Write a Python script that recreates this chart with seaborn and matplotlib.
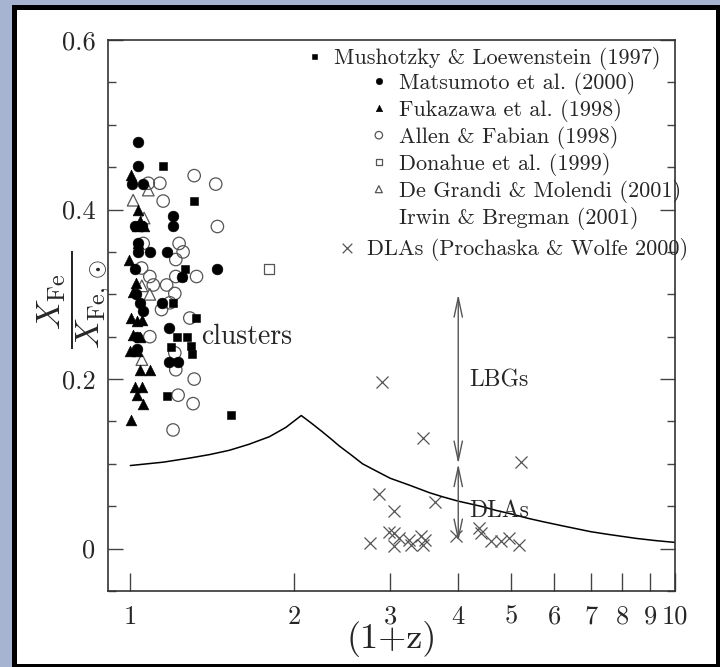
import matplotlib
matplotlib.use('Agg')
import matplotlib.pyplot as plt
from matplotlib.patches import Rectangle
from matplotlib.lines import Line2D
from matplotlib.ticker import FixedLocator, MultipleLocator, NullLocator
import seaborn as sns

sns.set_style('ticks')
plt.rcParams['font.family'] = ['cmr10', 'DejaVu Serif']
plt.rcParams['mathtext.fontset'] = 'cm'
plt.rcParams['axes.unicode_minus'] = False
plt.rcParams['axes.formatter.use_mathtext'] = True

# ---- data ----
mush_x = [1.15, 1.31, 1.26, 1.245, 1.20, 1.32, 1.22, 1.27, 1.29, 1.30, 1.19, 1.17, 1.53]
mush_y = [0.451, 0.41, 0.33, 0.32, 0.29, 0.272, 0.25, 0.25, 0.239, 0.229, 0.238, 0.18, 0.158]

mats_x = [1.034, 1.032, 1.007, 1.056, 1.198, 1.198, 1.02, 1.05, 1.034, 1.034, 1.086, 1.166,
          1.445, 1.02, 1.245, 1.025, 1.04, 1.055, 1.141, 1.179, 1.03, 1.03, 1.176, 1.224]
mats_y = [0.48, 0.451, 0.43, 0.43, 0.392, 0.38, 0.38, 0.38, 0.36, 0.35, 0.35, 0.35,
          0.33, 0.33, 0.32, 0.30, 0.29, 0.28, 0.29, 0.26, 0.25, 0.235, 0.22, 0.22]

fuku_x = [1.005, 1.034, 1.027, 1.044, 1.061, 1.034, 0.995, 1.023, 1.012, 1.005, 1.027, 1.049,
          1.012, 1.041, 0.998, 1.027, 1.041, 1.086, 1.02, 1.049, 1.027, 1.053, 1.005]
fuku_y = [0.441, 0.40, 0.381, 0.386, 0.38, 0.36, 0.341, 0.313, 0.303, 0.272, 0.268, 0.27,
          0.252, 0.25, 0.233, 0.233, 0.211, 0.211, 0.191, 0.191, 0.181, 0.171, 0.152]

allen_x = [1.079, 1.133, 1.149, 1.31, 1.435, 1.445, 1.229, 1.25, 1.212, 1.056, 1.049, 1.086,
           1.102, 1.166, 1.207, 1.212, 1.323, 1.182, 1.141, 1.286, 1.086, 1.207, 1.212,
           1.31, 1.224, 1.304, 1.198]
allen_y = [0.431, 0.431, 0.41, 0.44, 0.43, 0.38, 0.36, 0.35, 0.341, 0.36, 0.331, 0.321,
           0.311, 0.311, 0.301, 0.321, 0.321, 0.29, 0.282, 0.272, 0.25, 0.231, 0.211,
           0.20, 0.181, 0.171, 0.14]

dona_x = [1.795]
dona_y = [0.33]

degr_x = [1.079, 1.012, 1.06, 1.086, 1.05, 1.05]
degr_y = [0.423, 0.411, 0.39, 0.30, 0.31, 0.223]

dla_x = [2.90, 3.45, 5.22, 2.86, 3.05, 3.63, 2.75, 2.99, 3.05, 3.12, 3.05, 3.25, 3.28,
         3.42, 3.47, 3.44, 3.96, 4.37, 4.40, 4.60, 4.79, 4.96, 5.18]
dla_y = [0.196, 0.131, 0.102, 0.064, 0.044, 0.055, 0.007, 0.020, 0.0185, 0.0126, 0.0027,
         0.0106, 0.0047, 0.0145, 0.0106, 0.0047, 0.0145, 0.024, 0.0185, 0.0086, 0.0086,
         0.0126, 0.0047]

curve_x = [1.0, 1.15, 1.29, 1.4, 1.52, 1.65, 1.8, 1.93, 2.06, 2.15, 2.25, 2.35, 2.42,
           2.55, 2.67, 2.8, 3.0, 3.25, 3.54, 3.75, 4.0, 4.4, 4.7, 5.0, 5.35, 5.7, 6.2,
           7.0, 7.5, 8.5, 9.2, 10.0]
curve_y = [0.098, 0.102, 0.107, 0.111, 0.116, 0.123, 0.132, 0.143, 0.157, 0.148, 0.138,
           0.128, 0.121, 0.110, 0.100, 0.093, 0.083, 0.075, 0.066, 0.061, 0.056, 0.050,
           0.045, 0.041, 0.036, 0.032, 0.027, 0.020, 0.017, 0.012, 0.0095, 0.0073]

arrow_x = 4.0
arrow_levels = [0.3, 0.1, 0.008]

xticks = [1, 2, 3, 4, 5, 6, 7, 8, 9, 10]
xticklabels = ['1', '2', '3', '4', '5', '6', '7', '8', '9', '10']
yticks = [0, 0.2, 0.4, 0.6]
yticklabels = ['0', '0.2', '0.4', '0.6']

lab_mush = 'Mushotzky & Loewenstein (1997)'
lab_mats = 'Matsumoto et al. (2000)'
lab_fuku = 'Fukazawa et al. (1998)'
lab_allen = 'Allen & Fabian (1998)'
lab_dona = 'Donahue et al. (1999)'
lab_degr = 'De Grandi & Molendi (2001)'
lab_irwin = 'Irwin & Bregman (2001)'
lab_dla = 'DLAs (Prochaska & Wolfe 2000)'

# ---- figure ----
fig = plt.figure(figsize=(7.2, 6.67), dpi=100, facecolor='#a7b4d1')
fig.add_artist(Rectangle((13.5 / 720, 1.5 / 667), 704 / 720, 659 / 667,
                         transform=fig.transFigure, facecolor='white',
                         edgecolor='black', linewidth=3.6, zorder=-1))
ax = fig.add_axes([108 / 720, 76 / 667, 567 / 720, 551 / 667])
ax.set_facecolor('white')

gray = '#555555'
sns.lineplot(x=curve_x, y=curve_y, color='black', linewidth=1.1, ax=ax)

sns.scatterplot(x=allen_x, y=allen_y, marker='o', s=80, facecolor='none', edgecolor=gray,
                linewidth=0.9, ax=ax, label=lab_allen, legend=False)
sns.scatterplot(x=degr_x, y=degr_y, marker='^', s=70, facecolor='none', edgecolor=gray,
                linewidth=0.9, ax=ax, label=lab_degr, legend=False)
sns.scatterplot(x=dona_x, y=dona_y, marker='s', s=55, facecolor='none', edgecolor=gray,
                linewidth=0.9, ax=ax, label=lab_dona, legend=False)
sns.scatterplot(x=fuku_x, y=fuku_y, marker='^', s=60, color='black', edgecolor='black',
                linewidth=0.4, ax=ax, label=lab_fuku, legend=False)
sns.scatterplot(x=mats_x, y=mats_y, marker='o', s=60, color='black', edgecolor='black',
                linewidth=0.4, ax=ax, label=lab_mats, legend=False)
sns.scatterplot(x=mush_x, y=mush_y, marker='s', s=36, color='black', edgecolor='black',
                linewidth=0.4, ax=ax, label=lab_mush, legend=False)
sns.scatterplot(x=dla_x, y=dla_y, marker='x', s=75, color=gray, linewidth=0.9,
                ax=ax, label=lab_dla, legend=False)

# LBG / DLA ranges
arrow_kw = dict(arrowstyle='<->,head_length=1.4,head_width=0.3', color=gray,
                lw=1.0, shrinkA=0, shrinkB=0)
ax.annotate('', xy=(arrow_x, arrow_levels[0]), xytext=(arrow_x, arrow_levels[1]),
            arrowprops=arrow_kw)
ax.annotate('', xy=(arrow_x, arrow_levels[1]), xytext=(arrow_x, arrow_levels[2]),
            arrowprops=arrow_kw)
ax.text(4.19, 0.198, 'LBGs', fontsize=17, va='center', ha='left')
ax.text(4.19, 0.045, 'DLAs', fontsize=17, va='center', ha='left')
ax.text(1.35, 0.25, 'clusters', fontsize=20, va='center', ha='left')

# axes
ax.set_xscale('log')
ax.set_xlim(0.91, 10)
ax.set_ylim(-0.05, 0.6)
ax.xaxis.set_major_locator(FixedLocator(xticks))
ax.xaxis.set_minor_locator(NullLocator())
ax.set_xticklabels(xticklabels)
ax.yaxis.set_major_locator(FixedLocator(yticks))
ax.yaxis.set_minor_locator(MultipleLocator(0.05))
ax.set_yticklabels(yticklabels)
ax.tick_params(axis='x', which='major', direction='in', length=13, width=1.0,
               color='#444444', top=False, bottom=True, pad=10, labelsize=19)
ax.tick_params(axis='y', which='major', direction='in', length=11, width=1.0,
               color='#444444', left=True, right=True, pad=9, labelsize=19)
ax.tick_params(axis='y', which='minor', direction='in', length=6, width=1.0,
               color='#444444', left=True, right=True)
for sp in ax.spines.values():
    sp.set_linewidth(1.2)
    sp.set_color('#333333')

ax.set_xlabel('(1+z)', fontsize=26, va='center')
ax.xaxis.set_label_coords(0.5, -0.088)
ax.set_ylabel(r'$\dfrac{X_{\mathrm{Fe}}}{X_{\mathrm{Fe,\odot}}}$', fontsize=25,
              ha='center', va='center')
ax.yaxis.set_label_coords(-0.06, 0.528)

# legends (three blocks, as in the original)
handles = dict(zip(*ax.get_legend_handles_labels()[::-1]))
blank = Line2D([], [], linestyle='none')
leg_kw = dict(frameon=False, fontsize=16, handlelength=0.8, handletextpad=0.5,
              borderpad=0, borderaxespad=0, scatteryoffsets=[0.5])
leg1 = ax.legend(handles=[handles[lab_mush]], labels=[lab_mush], loc='center left',
                 bbox_to_anchor=(0.347, 0.967), markerscale=0.6, **leg_kw)
ax.add_artist(leg1)
mid = [lab_mats, lab_fuku, lab_allen, lab_dona, lab_degr]
leg2 = ax.legend(handles=[handles[k] for k in mid] + [blank], labels=mid + [lab_irwin],
                 loc='upper left', bbox_to_anchor=(0.462, 0.942), labelspacing=0.18,
                 markerscale=0.6, **leg_kw)
ax.add_artist(leg2)
ax.legend(handles=[handles[lab_dla]], labels=[lab_dla], loc='center left',
          bbox_to_anchor=(0.406, 0.619), markerscale=0.8, **leg_kw)

fig.savefig('out.png', dpi=100, facecolor=fig.get_facecolor())
